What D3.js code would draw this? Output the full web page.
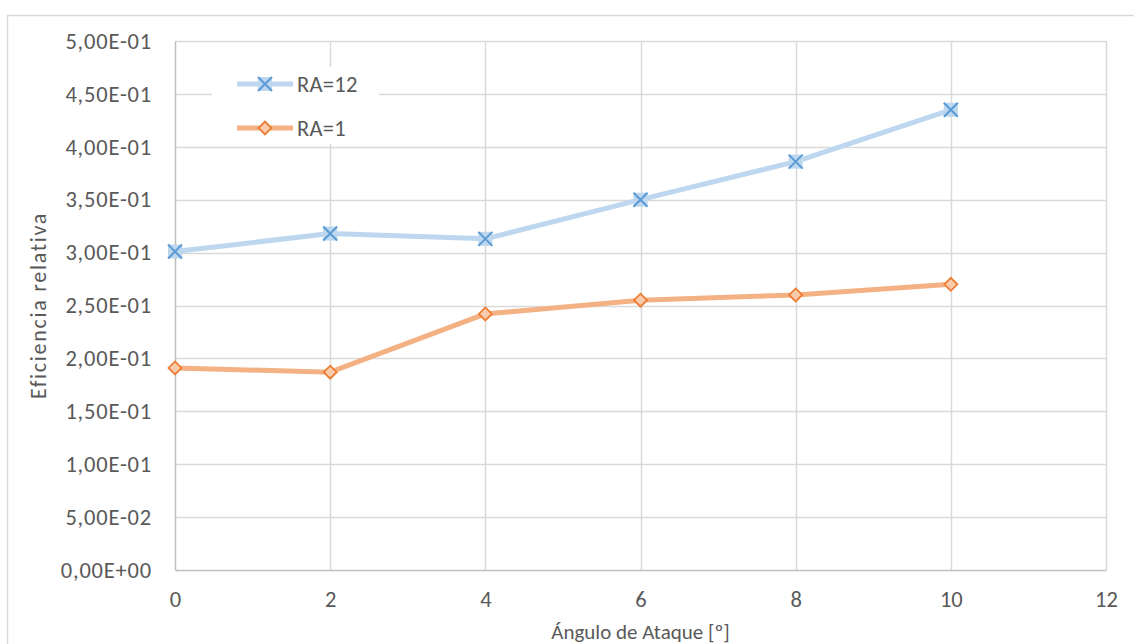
<!DOCTYPE html>
<html><head><meta charset="utf-8">
<script src="https://cdn.jsdelivr.net/npm/d3@7"></script>
<style>body{margin:0;background:#fff}svg{display:block}</style>
</head><body>
<svg id="c" width="1134" height="644"></svg>
<script>
const angles = [0, 2, 4, 6, 8, 10];
const ra12 = [0.301, 0.318, 0.313, 0.350, 0.386, 0.435];
const ra1 = [0.191, 0.187, 0.242, 0.255, 0.260, 0.270];
const seriesNames = ["RA=12", "RA=1"];
const xTicks = [0, 2, 4, 6, 8, 10, 12];
const yTicks = [0, 0.05, 0.1, 0.15, 0.2, 0.25, 0.3, 0.35, 0.4, 0.45, 0.5];
const xTitle = "Ángulo de Ataque [º]";
const yTitle = "Eficiencia relativa";

const svg = d3.select("#c");
const font = "Carlito, Calibri, Lato, sans-serif";
const x = d3.scaleLinear().domain([0, 12]).range([175, 1106]);
const y = d3.scaleLinear().domain([0, 0.5]).range([570, 41]);
const fmt = v => {
  if (v === 0) return "0,00E+00";
  return d3.format(".2e")(v).replace(".", ",").replace(/e([+-])(\d+)$/, (m, s, d) => "E" + s + d.padStart(2, "0"));
};

// outer chart border
svg.append("rect").attr("x", 7.5).attr("y", 15.5).attr("width", 1140).attr("height", 650)
  .attr("fill", "none").attr("stroke", "#d9d9d9").attr("stroke-width", 1.5);

// gridlines
svg.append("g").selectAll("line").data(yTicks.filter(d => d > 0)).join("line")
  .attr("x1", x(0)).attr("x2", x(12)).attr("y1", d => Math.round(y(d)) + 0.5).attr("y2", d => Math.round(y(d)) + 0.5)
  .attr("stroke", "#d9d9d9").attr("stroke-width", 1.5);
svg.append("g").selectAll("line").data(xTicks.filter(d => d > 0)).join("line")
  .attr("x1", d => Math.round(x(d)) + 0.5).attr("x2", d => Math.round(x(d)) + 0.5).attr("y1", y(0.5)).attr("y2", y(0))
  .attr("stroke", "#d9d9d9").attr("stroke-width", 1.5);

// axes
const xAxis = svg.append("g").attr("transform", `translate(0,${y(0)})`)
  .call(d3.axisBottom(x).tickValues(xTicks).tickSize(0).tickPadding(21).tickFormat(d3.format("d")));
const yAxis = svg.append("g").attr("transform", `translate(${x(0)},0)`)
  .call(d3.axisLeft(y).tickValues(yTicks).tickSize(0).tickPadding(23).tickFormat(fmt));
[xAxis, yAxis].forEach(g => {
  g.select(".domain").attr("stroke", "#bfbfbf").attr("stroke-width", 1.5);
  g.selectAll("text").attr("fill", "#595959").style("font-family", font).style("font-size", "22.5px");
});
yAxis.selectAll("text").style("letter-spacing", "0.8px");

// titles
svg.append("text").attr("x", (x(0) + x(12)) / 2).attr("y", 639).attr("text-anchor", "middle")
  .attr("fill", "#595959").style("font-family", font).style("font-size", "21px").text(xTitle);
svg.append("text").attr("transform", `translate(46,${(y(0) + y(0.5)) / 2}) rotate(-90)`).attr("text-anchor", "middle")
  .attr("fill", "#595959").style("font-family", font).style("font-size", "22px").style("letter-spacing", "1.7px").text(yTitle);

// lines
const line = d3.line().x((d, i) => x(angles[i])).y(d => y(d));
svg.append("path").datum(ra12).attr("d", line).attr("fill", "none").attr("stroke", "#bdd7ee").attr("stroke-width", 5).attr("stroke-linejoin", "round");
svg.append("path").datum(ra1).attr("d", line).attr("fill", "none").attr("stroke", "#f4b183").attr("stroke-width", 5).attr("stroke-linejoin", "round");

function xMarker(g, cx, cy) {
  const s = 7;
  g.append("rect").attr("x", cx - s).attr("y", cy - s).attr("width", 2 * s).attr("height", 2 * s).attr("fill", "#bdd7ee");
  g.append("path").attr("d", `M${cx - s},${cy - s}L${cx + s},${cy + s}M${cx - s},${cy + s}L${cx + s},${cy - s}`)
    .attr("stroke", "#5b9bd5").attr("stroke-width", 2);
}
function dMarker(g, cx, cy) {
  const s = 6.5;
  g.append("path").attr("d", `M${cx},${cy - s}L${cx + s},${cy}L${cx},${cy + s}L${cx - s},${cy}Z`)
    .attr("fill", "#f8cbad").attr("stroke", "#ed7d31").attr("stroke-width", 1.8);
}
const m12 = svg.append("g"), m1 = svg.append("g");
ra12.forEach((v, i) => xMarker(m12, x(angles[i]), y(v)));
ra1.forEach((v, i) => dMarker(m1, x(angles[i]), y(v)));

// legend
const lg = svg.append("g");
lg.append("rect").attr("x", 212).attr("y", 67).attr("width", 167).attr("height", 77).attr("fill", "#fff");
const ly = [84, 128];
lg.append("line").attr("x1", 237).attr("x2", 293).attr("y1", ly[0]).attr("y2", ly[0]).attr("stroke", "#bdd7ee").attr("stroke-width", 5);
xMarker(lg, 265, ly[0]);
lg.append("line").attr("x1", 237).attr("x2", 293).attr("y1", ly[1]).attr("y2", ly[1]).attr("stroke", "#f4b183").attr("stroke-width", 5);
dMarker(lg, 265, ly[1]);
seriesNames.forEach((n, i) => lg.append("text").attr("x", 297).attr("y", ly[i] + 8)
  .attr("fill", "#595959").style("font-family", font).style("font-size", "22.5px").style("letter-spacing", "0.3px").text(n));
</script>
</body></html>
